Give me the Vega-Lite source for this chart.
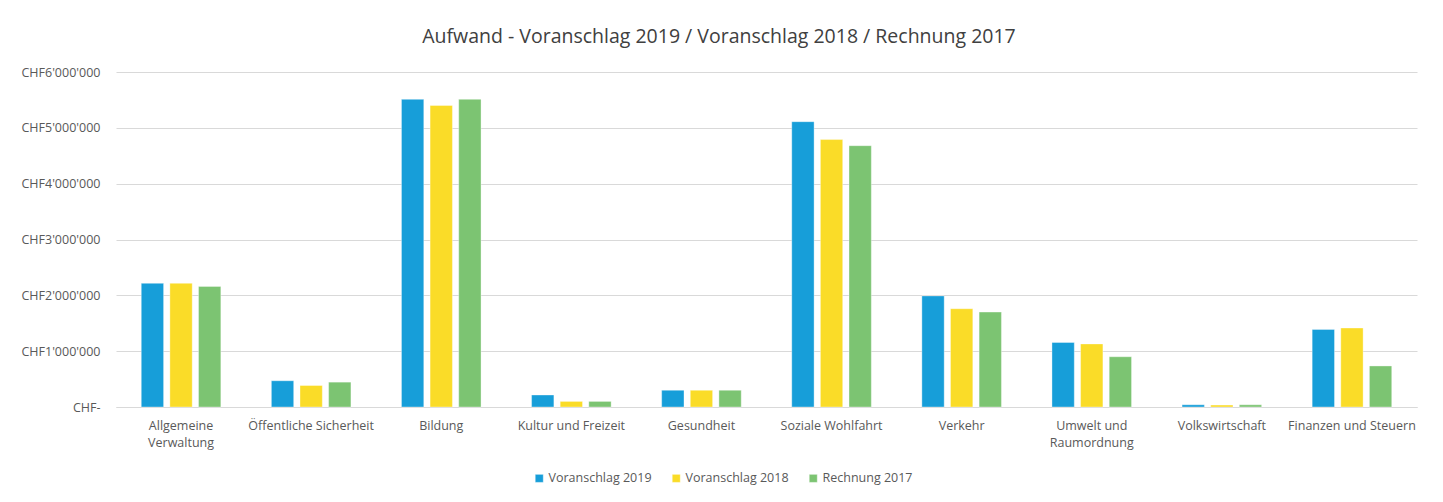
{
  "$schema": "https://vega.github.io/schema/vega-lite/v6.json",
  "width": 1301,
  "height": 335,
  "padding": {"left": 20, "top": 26, "right": 22, "bottom": 10},
  "background": "white",
  "title": {
    "text": "Aufwand - Voranschlag 2019 / Voranschlag 2018 / Rechnung 2017",
    "font": "Open Sans",
    "fontSize": 19.5,
    "fontWeight": "normal",
    "color": "#404040",
    "anchor": "middle",
    "frame": "bounds",
    "offset": 19
  },
  "data": {
    "values": [
      {"Kategorie": "Allgemeine Verwaltung", "Serie": "Voranschlag 2019", "Betrag": 2215000},
      {"Kategorie": "Allgemeine Verwaltung", "Serie": "Voranschlag 2018", "Betrag": 2215000},
      {"Kategorie": "Allgemeine Verwaltung", "Serie": "Rechnung 2017", "Betrag": 2160000},
      {"Kategorie": "Öffentliche Sicherheit", "Serie": "Voranschlag 2019", "Betrag": 470000},
      {"Kategorie": "Öffentliche Sicherheit", "Serie": "Voranschlag 2018", "Betrag": 385000},
      {"Kategorie": "Öffentliche Sicherheit", "Serie": "Rechnung 2017", "Betrag": 445000},
      {"Kategorie": "Bildung", "Serie": "Voranschlag 2019", "Betrag": 5510000},
      {"Kategorie": "Bildung", "Serie": "Voranschlag 2018", "Betrag": 5400000},
      {"Kategorie": "Bildung", "Serie": "Rechnung 2017", "Betrag": 5510000},
      {"Kategorie": "Kultur und Freizeit", "Serie": "Voranschlag 2019", "Betrag": 215000},
      {"Kategorie": "Kultur und Freizeit", "Serie": "Voranschlag 2018", "Betrag": 100000},
      {"Kategorie": "Kultur und Freizeit", "Serie": "Rechnung 2017", "Betrag": 100000},
      {"Kategorie": "Gesundheit", "Serie": "Voranschlag 2019", "Betrag": 300000},
      {"Kategorie": "Gesundheit", "Serie": "Voranschlag 2018", "Betrag": 300000},
      {"Kategorie": "Gesundheit", "Serie": "Rechnung 2017", "Betrag": 300000},
      {"Kategorie": "Soziale Wohlfahrt", "Serie": "Voranschlag 2019", "Betrag": 5110000},
      {"Kategorie": "Soziale Wohlfahrt", "Serie": "Voranschlag 2018", "Betrag": 4790000},
      {"Kategorie": "Soziale Wohlfahrt", "Serie": "Rechnung 2017", "Betrag": 4680000},
      {"Kategorie": "Verkehr", "Serie": "Voranschlag 2019", "Betrag": 1990000},
      {"Kategorie": "Verkehr", "Serie": "Voranschlag 2018", "Betrag": 1760000},
      {"Kategorie": "Verkehr", "Serie": "Rechnung 2017", "Betrag": 1700000},
      {"Kategorie": "Umwelt und Raumordnung", "Serie": "Voranschlag 2019", "Betrag": 1155000},
      {"Kategorie": "Umwelt und Raumordnung", "Serie": "Voranschlag 2018", "Betrag": 1130000},
      {"Kategorie": "Umwelt und Raumordnung", "Serie": "Rechnung 2017", "Betrag": 900000},
      {"Kategorie": "Volkswirtschaft", "Serie": "Voranschlag 2019", "Betrag": 40000},
      {"Kategorie": "Volkswirtschaft", "Serie": "Voranschlag 2018", "Betrag": 35000},
      {"Kategorie": "Volkswirtschaft", "Serie": "Rechnung 2017", "Betrag": 40000},
      {"Kategorie": "Finanzen und Steuern", "Serie": "Voranschlag 2019", "Betrag": 1390000},
      {"Kategorie": "Finanzen und Steuern", "Serie": "Voranschlag 2018", "Betrag": 1415000},
      {"Kategorie": "Finanzen und Steuern", "Serie": "Rechnung 2017", "Betrag": 735000}
    ]
  },
  "mark": {"type": "bar"},
  "encoding": {
    "x": {
      "field": "Kategorie",
      "type": "nominal",
      "sort": null,
      "scale": {"paddingInner": 0.34, "paddingOuter": 0.17},
      "axis": {
        "title": null,
        "labelAngle": 0,
        "labelFont": "Open Sans",
        "labelFontSize": 12.5,
        "labelColor": "#595959",
        "labelPadding": 12,
        "labelLineHeight": 17,
        "labelLimit": 200,
        "ticks": false,
        "domainColor": "#D9D9D9",
        "domainWidth": 1,
        "labelExpr": "datum.value == 'Allgemeine Verwaltung' ? ['Allgemeine', 'Verwaltung'] : datum.value == 'Umwelt und Raumordnung' ? ['Umwelt und', 'Raumordnung'] : datum.value"
      }
    },
    "xOffset": {
      "field": "Serie",
      "type": "nominal",
      "sort": ["Voranschlag 2019", "Voranschlag 2018", "Rechnung 2017"],
      "scale": {"paddingInner": 0.22, "paddingOuter": 0.11}
    },
    "y": {
      "field": "Betrag",
      "type": "quantitative",
      "scale": {"domain": [0, 6000000], "nice": false},
      "axis": {
        "title": null,
        "values": [0, 1000000, 2000000, 3000000, 4000000, 5000000, 6000000],
        "labelFont": "Open Sans",
        "labelFontSize": 12.5,
        "labelColor": "#595959",
        "labelPadding": 16,
        "ticks": false,
        "domain": false,
        "gridColor": "#D9D9D9",
        "gridWidth": 1,
        "labelExpr": "datum.value == 0 ? 'CHF-' : 'CHF' + replace(format(datum.value, ','), regexp(',', 'g'), \"'\")"
      }
    },
    "color": {
      "field": "Serie",
      "type": "nominal",
      "sort": ["Voranschlag 2019", "Voranschlag 2018", "Rechnung 2017"],
      "scale": {
        "domain": ["Voranschlag 2019", "Voranschlag 2018", "Rechnung 2017"],
        "range": ["#179ED9", "#FADC28", "#7CC472"]
      },
      "legend": {
        "title": null,
        "orient": "none",
        "legendX": 417,
        "legendY": 400,
        "direction": "horizontal",
        "symbolType": "square",
        "symbolSize": 64,
        "symbolStrokeWidth": 0,
        "labelFont": "Open Sans",
        "labelFontSize": 12.5,
        "labelColor": "#595959",
        "labelOffset": 3,
        "columnPadding": 18
      }
    }
  },
  "config": {
    "view": {"stroke": null},
    "bar": {"stroke": "white", "strokeWidth": 0.6, "strokeOpacity": 0.6}
  }
}
